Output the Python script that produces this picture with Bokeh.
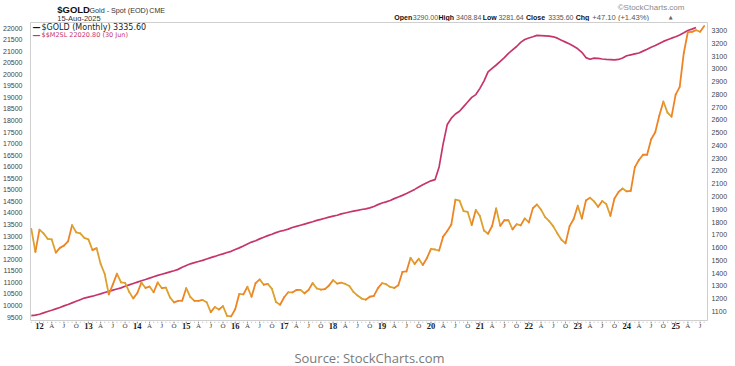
from bokeh.plotting import figure
from bokeh.layouts import column
from bokeh.models import Range1d, LinearAxis, FixedTicker, Label, LabelSet, ColumnDataSource
from bokeh.embed import file_html
from bokeh.resources import INLINE

# ---------------- data ----------------
# month index 0 = Jan 2012; series start at Nov 2011 (index -2)
gold_start = -2
gold_close = [
    1746, 1566,
    1740, 1711, 1669, 1664, 1561, 1598, 1615, 1648, 1776, 1720, 1712, 1676,
    1664, 1580, 1596, 1472, 1393, 1234, 1312, 1396, 1327, 1323, 1253, 1202,
    1244, 1326, 1284, 1295, 1250, 1327, 1282, 1287, 1210, 1171, 1183, 1184,
    1283, 1213, 1183, 1183, 1190, 1172, 1095, 1135, 1115, 1142, 1065, 1061,
    1117, 1238, 1234, 1293, 1215, 1322, 1351, 1309, 1316, 1277, 1173, 1152,
    1211, 1250, 1249, 1268, 1269, 1242, 1269, 1322, 1280, 1271, 1275, 1303,
    1345, 1318, 1325, 1315, 1299, 1253, 1224, 1201, 1192, 1215, 1222, 1282,
    1321, 1313, 1292, 1284, 1305, 1409, 1413, 1520, 1472, 1513, 1464, 1517,
    1589, 1585, 1577, 1686, 1730, 1781, 1975, 1968, 1886, 1879, 1777, 1895,
    1847, 1734, 1708, 1769, 1907, 1770, 1814, 1814, 1743, 1783, 1774, 1829,
    1797, 1909, 1937, 1897, 1838, 1807, 1766, 1711, 1661, 1633, 1768, 1824,
    1928, 1827, 1969, 1990, 1962, 1919, 1965, 1940, 1849, 1984, 2036, 2063,
    2040, 2044, 2230, 2286, 2327, 2327, 2448, 2503, 2634, 2744, 2657, 2625,
    2798, 2858, 3124, 3288, 3289, 3303, 3290, 3335.6,
]

m2_start = -2
m2sl = [
    9560, 9580,
    9620, 9680, 9740, 9790, 9850, 9910, 9980, 10040, 10110, 10180, 10250, 10320,
    10360, 10400, 10450, 10500, 10560, 10610, 10660, 10710, 10760, 10830, 10890, 10950,
    11010, 11070, 11120, 11180, 11240, 11300, 11350, 11400, 11450, 11500, 11560, 11650,
    11730, 11800, 11850, 11900, 11950, 12010, 12070, 12120, 12180, 12230, 12290, 12340,
    12420, 12490, 12570, 12660, 12740, 12800, 12880, 12950, 13020, 13080, 13150, 13210,
    13250, 13300, 13370, 13420, 13470, 13520, 13570, 13620, 13680, 13720, 13770, 13820,
    13860, 13900, 13960, 14000, 14040, 14080, 14110, 14150, 14180, 14220, 14280, 14360,
    14430, 14480, 14540, 14620, 14690, 14760, 14840, 14930, 15020, 15120, 15220, 15310,
    15390, 15440, 15990, 17000, 17830, 18100, 18280, 18400, 18600, 18800, 19000, 19120,
    19390, 19700, 20100, 20250, 20400, 20560, 20720, 20900, 21050, 21200, 21380, 21500,
    21570, 21620, 21680, 21670, 21660, 21650, 21620, 21560, 21470, 21390, 21310, 21210,
    21100, 20950, 20720, 20650, 20700, 20690, 20660, 20640, 20630, 20620, 20640, 20700,
    20800, 20840, 20880, 20920, 21000, 21080, 21170, 21240, 21330, 21420, 21490, 21560,
    21620, 21700, 21790, 21890, 21950, 22020.8,
]

year_labels = ["12", "13", "14", "15", "16", "17", "18", "19", "20", "21", "22", "23", "24", "25"]
quarter_labels = ["A", "J", "O"]
left_ticks = list(range(9500, 22001, 500))
right_ticks = list(range(1100, 3301, 100))

title_main = "$GOLD"
title_sub = "Gold - Spot (EOD)"
title_exch = "CME"
date_text = "15-Aug-2025"
ohlc_parts = [("Open", "3290.00"), ("High", "3408.84"), ("Low", "3281.64"),
              ("Close", "3335.60"), ("Chg", "+47.10 (+1.43%)")]
legend_gold = "$GOLD (Monthly) 3335.60"
legend_m2 = "$$M2SL 22020.80 (30 Jun)"
source_text = "Source: StockCharts.com"

GOLD_UP = "#EE8424"
GOLD_DN = "#DDA12D"
M2_COL = "#C6346C"

# ---------------- geometry (page pixels) ----------------
W = 735
HEAD_H = 21
MAIN_H = 300
FOOT_H = 45
FL, FR = 28, 28
FW = W - FL - FR
PX_PER_MONTH = 4.09
x_start = -2.2
x_range = Range1d(x_start, x_start + FW / PX_PER_MONTH)


def bare(fig):
    fig.outline_line_color = None
    fig.xgrid.visible = False
    fig.ygrid.visible = False
    fig.xaxis.visible = False
    fig.yaxis.visible = False


# ---------------- header ----------------
head = figure(width=W, height=HEAD_H, output_backend="svg", toolbar_location=None,
              x_range=Range1d(0, W), y_range=Range1d(HEAD_H, 0),
              min_border=0, background_fill_color="white", border_fill_color="white")
bare(head)


def hl(fig, px, py, text, size, color="#222222", font="Liberation Sans", style="normal",
       align="left"):
    fig.add_layout(Label(x=px, y=py, text=text, text_font=font, text_font_size=size,
                         text_color=color, text_font_style=style, text_align=align,
                         text_baseline="middle"))


hl(head, 29, 9, title_main, "9.5px", "#111111", style="bold")
hl(head, 64, 9.5, title_sub, "7.2px", "#333333")
hl(head, 129, 9.5, title_exch, "7px", "#333333")
hl(head, 29, 17.5, date_text, "7.5px", "#333333")
hl(head, 710, 7, "\u00a9StockCharts.com", "8px", "#8a8a8a", align="right")
ohlc_x = [(395, 415), (443, 462), (491, 508), (538, 562), (592, 610)]
for (lab, val), (lx, vx) in zip(ohlc_parts, ohlc_x):
    hl(head, lx, 17, lab, "7px", "#111111", style="bold")
    hl(head, vx, 17, val, "7px" if lab != "Chg" else "7.6px", "#555555")
hl(head, 693, 16.5, "\u25b2", "5px", "#666666", font="DejaVu Sans")

# ---------------- main chart ----------------
MAIN_TOP = HEAD_H          # page y of main figure top
FRAME_TOP, FRAME_BOT = 22, 320
p = figure(width=W, height=MAIN_H, output_backend="svg", toolbar_location=None,
           x_range=x_range, y_range=Range1d(9349, 22238),
           min_border_left=FL, min_border_right=FR,
           min_border_top=FRAME_TOP - MAIN_TOP, min_border_bottom=MAIN_TOP + MAIN_H - FRAME_BOT,
           background_fill_color="white", border_fill_color="white")
p.extra_y_ranges = {"gold": Range1d(1029, 3362.6)}
p.outline_line_color = "#cfcfcf"
p.xgrid.visible = False
p.ygrid.visible = False
p.xaxis.visible = False


def style_y(ax, standoff):
    ax.axis_line_color = None
    ax.major_tick_line_color = None
    ax.minor_tick_line_color = None
    ax.major_tick_out = 0
    ax.major_tick_in = 0
    ax.minor_tick_out = 0
    ax.major_label_standoff = standoff
    ax.major_label_text_font = "Liberation Sans"
    ax.major_label_text_font_size = "7px"
    ax.major_label_text_color = "#444444"


ya = p.yaxis[0]
ya.ticker = FixedTicker(ticks=left_ticks)
style_y(ya, 8)
ra = LinearAxis(y_range_name="gold", ticker=FixedTicker(ticks=right_ticks))
style_y(ra, 4)
p.add_layout(ra, "right")

# M2 line
m2_x = list(range(m2_start, m2_start + len(m2sl)))
p.line(m2_x, m2sl, line_color=M2_COL, line_width=1.7, line_join="round")

# gold line, coloured by direction
n_gold = len(gold_close)
gx = list(range(gold_start, gold_start + n_gold))
sx0, sy0, sx1, sy1, sc = [], [], [], [], []
for i in range(n_gold - 1):
    sx0.append(gx[i]); sy0.append(gold_close[i])
    sx1.append(gx[i + 1]); sy1.append(gold_close[i + 1])
    sc.append(GOLD_UP if gold_close[i + 1] >= gold_close[i] else GOLD_DN)
p.segment(x0="x0", y0="y0", x1="x1", y1="y1", color="c", line_width=1.8, line_cap="round",
          source=ColumnDataSource(dict(x0=sx0, y0=sy0, x1=sx1, y1=sy1, c=sc)),
          y_range_name="gold")

# legend (screen units relative to frame bottom-left)


def ml(px, py, text, size, color, font="DejaVu Sans", style="normal"):
    p.add_layout(Label(x=px - FL, y=FRAME_BOT - py, x_units="screen", y_units="screen",
                       text=text, text_font=font, text_font_size=size, text_color=color,
                       text_font_style=style, text_align="left", text_baseline="middle"))


ml(30, 26.5, "\u2014", "8px", "#111111", style="bold")
ml(39, 26.5, legend_gold, "8px", "#222222")
ml(30, 34.5, "\u2014", "8px", M2_COL, style="bold")
ml(39, 34.5, legend_m2, "6.5px", M2_COL)

# ---------------- footer: x tick marks, tick labels, source ----------------
FOOT_TOP = MAIN_TOP + MAIN_H
foot = figure(width=W, height=FOOT_H, output_backend="svg", toolbar_location=None,
              x_range=x_range, y_range=Range1d(FOOT_TOP + FOOT_H, FOOT_TOP),
              min_border_left=FL, min_border_right=FR, min_border_top=0, min_border_bottom=0,
              background_fill_color="white", border_fill_color="white")
bare(foot)

last_m = gold_start + n_gold - 1
month_ticks = list(range(gold_start, last_m + 1))
quarter_ticks = list(range(0, last_m + 1, 3))
foot.segment(x0=month_ticks, y0=[FOOT_TOP] * len(month_ticks),
             x1=month_ticks, y1=[FOOT_TOP + 1.2] * len(month_ticks),
             line_color="#b5b5b5", line_width=1)
foot.segment(x0=quarter_ticks, y0=[FOOT_TOP] * len(quarter_ticks),
             x1=quarter_ticks, y1=[FOOT_TOP + 2] * len(quarter_ticks),
             line_color="#999999", line_width=1)

yr_x, yr_t, q_x, q_t = [], [], [], []
for m in quarter_ticks:
    if m % 12 == 0:
        yr_x.append(m)
        yr_t.append(year_labels[m // 12])
    else:
        q_x.append(m)
        q_t.append(quarter_labels[(m % 12) // 3 - 1])
LBL_Y = 325.5
foot.add_layout(LabelSet(x="x", y="y", text="t",
                         source=ColumnDataSource(dict(x=yr_x, y=[LBL_Y] * len(yr_x), t=yr_t)),
                         text_font="Liberation Sans", text_font_style="bold",
                         text_font_size="8.5px", text_color="#1a1a1a",
                         text_align="center", text_baseline="middle"))
foot.add_layout(LabelSet(x="x", y="y", text="t",
                         source=ColumnDataSource(dict(x=q_x, y=[LBL_Y] * len(q_x), t=q_t)),
                         text_font="Liberation Sans", text_font_size="7px", text_color="#444444",
                         text_align="center", text_baseline="middle"))
foot.add_layout(Label(x=367 - FL, y=357.5, x_units="screen", text=source_text,
                      text_font="Open Sans", text_font_size="13px", text_color="#7a7a7a",
                      text_align="center", text_baseline="middle"))

layout = column(head, p, foot, spacing=0)
open("out.html", "w").write(file_html(layout, INLINE))
